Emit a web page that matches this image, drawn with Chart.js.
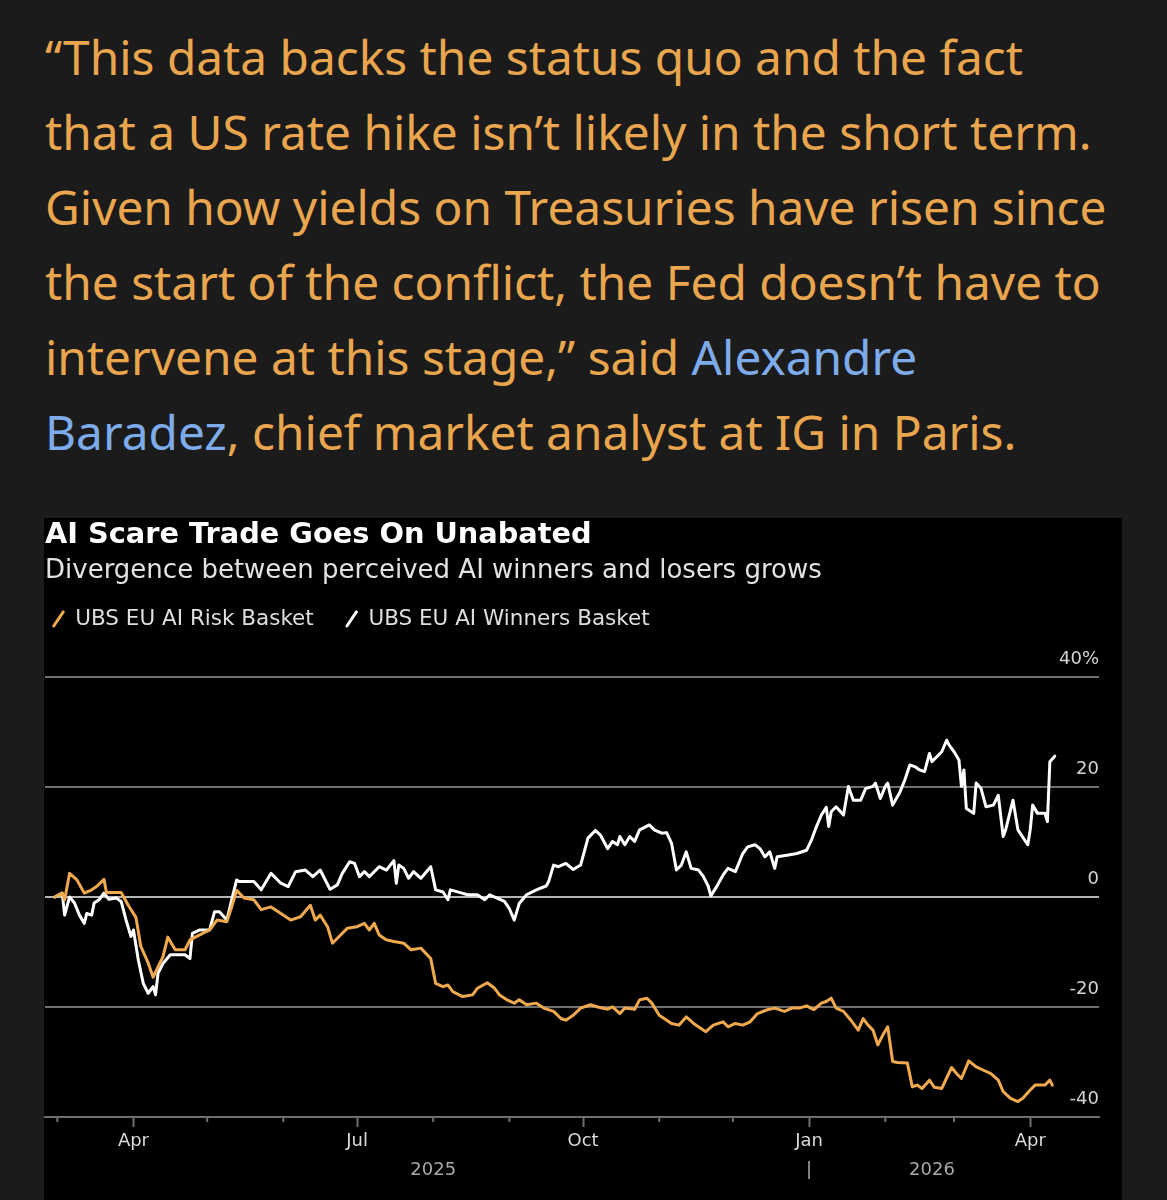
<!DOCTYPE html>
<html>
<head>
<meta charset="utf-8">
<script src="https://cdn.jsdelivr.net/npm/chart.js@4.4.1/dist/chart.umd.min.js"></script>
<style>
  html, body { margin: 0; padding: 0; background: #1b1b1b; }
  body { width: 1167px; height: 1200px; position: relative; overflow: hidden; }
  .citacao { position: absolute; left: 45px; top: 18.5px; font-family: 'Noto Sans', sans-serif;
             font-size: 47.8px; line-height: 75px; color: #e9a64e; }
  .citacao div { white-space: nowrap; }
  .citacao .nome { color: #7eabea; }
  .painel { position: absolute; left: 44px; top: 518px; width: 1078px; height: 682px; background: #000; }
</style>
</head>
<body>
<div class="citacao">
  <div>“This data backs the status quo and the fact</div>
  <div>that a US rate hike isn’t likely in the short term.</div>
  <div>Given how yields on Treasuries have risen since</div>
  <div>the start of the conflict, the Fed doesn’t have to</div>
  <div>intervene at this stage,” said <span class="nome">Alexandre</span></div>
  <div><span class="nome">Baradez</span>, chief market analyst at IG in Paris.</div>
</div>
<div class="painel"><canvas id="grafico"></canvas></div>
<script>
const tituloTexto = 'AI Scare Trade Goes On Unabated';
const subtituloTexto = 'Divergence between perceived AI winners and losers grows';
const riskLabel = 'UBS EU AI Risk Basket';
const winnersLabel = 'UBS EU AI Winners Basket';

const riskDates = [
  '2025-02-28','2025-03-03','2025-03-04','2025-03-06','2025-03-09','2025-03-12','2025-03-15','2025-03-17',
  '2025-03-20','2025-03-21','2025-03-25','2025-03-27','2025-03-30','2025-04-02','2025-04-04','2025-04-07',
  '2025-04-09','2025-04-11','2025-04-13','2025-04-15','2025-04-18','2025-04-22','2025-04-24','2025-04-28',
  '2025-05-02','2025-05-05','2025-05-09','2025-05-11','2025-05-13','2025-05-16','2025-05-20','2025-05-23',
  '2025-05-27','2025-05-31','2025-06-04','2025-06-08','2025-06-12','2025-06-14','2025-06-16','2025-06-19',
  '2025-06-21','2025-06-23','2025-06-27','2025-07-01','2025-07-04','2025-07-06','2025-07-08','2025-07-10',
  '2025-07-13','2025-07-16','2025-07-20','2025-07-23','2025-07-27','2025-07-31','2025-08-02','2025-08-05',
  '2025-08-07','2025-08-09','2025-08-13','2025-08-17','2025-08-19','2025-08-23','2025-08-26','2025-08-28',
  '2025-08-31','2025-09-03','2025-09-05','2025-09-08','2025-09-12','2025-09-15','2025-09-19','2025-09-22',
  '2025-09-24','2025-09-27','2025-09-30','2025-10-04','2025-10-07','2025-10-11','2025-10-13','2025-10-16',
  '2025-10-18','2025-10-22','2025-10-24','2025-10-27','2025-10-29','2025-11-01','2025-11-03','2025-11-06',
  '2025-11-09','2025-11-12','2025-11-15','2025-11-18','2025-11-20','2025-11-23','2025-11-27','2025-11-29',
  '2025-12-02','2025-12-05','2025-12-08','2025-12-11','2025-12-15','2025-12-18','2025-12-22','2025-12-25',
  '2025-12-28','2025-12-31','2026-01-03','2026-01-06','2026-01-08','2026-01-10','2026-01-12','2026-01-15',
  '2026-01-18','2026-01-21','2026-01-23','2026-01-25','2026-01-27','2026-01-29','2026-01-31','2026-02-02',
  '2026-02-04','2026-02-06','2026-02-10','2026-02-12','2026-02-14','2026-02-16','2026-02-19','2026-02-21',
  '2026-02-24','2026-02-28','2026-03-02','2026-03-04','2026-03-07','2026-03-10','2026-03-13','2026-03-16',
  '2026-03-19','2026-03-21','2026-03-24','2026-03-27','2026-03-29','2026-04-01','2026-04-03','2026-04-07',
  '2026-04-09','2026-04-10'
];
const riskValues = [
  0, 0.7, -0.5, 4.3, 3.1, 0.7, 1.3, 1.9,
  3.2, 0.8, 0.8, 0.8, -1.6, -3.7, -9.0, -12.0,
  -14.6, -12.7, -10.9, -7.3, -9.6, -9.6, -7.8, -6.9,
  -6.0, -4.2, -4.5, -1.8, 1.2, -0.2, -0.5, -2.3,
  -1.8, -3.0, -4.2, -3.6, -1.5, -4.2, -3.3, -5.4,
  -8.4, -7.5, -5.7, -5.4, -4.8, -6.0, -4.8, -6.9,
  -7.8, -8.1, -8.4, -9.6, -9.3, -11.2, -15.7, -16.3,
  -16.0, -17.2, -18.1, -17.8, -16.6, -15.6, -16.6, -17.8,
  -18.7, -19.3, -18.7, -19.6, -19.3, -20.2, -20.8, -22.1,
  -22.4, -21.5, -20.2, -19.6, -20.0, -20.4, -20.0, -21.2,
  -20.2, -20.4, -18.7, -18.4, -19.3, -21.5, -22.1, -23.0,
  -23.3, -21.8, -23.0, -23.9, -24.5, -23.3, -22.7, -23.6,
  -23.0, -23.3, -22.7, -21.2, -20.5, -20.2, -20.8, -20.2,
  -20.2, -19.8, -20.5, -19.3, -19.0, -18.4, -20.2, -20.8,
  -22.4, -24.2, -22.1, -23.3, -24.2, -26.9, -25.1, -23.6,
  -29.9, -30.1, -30.2, -34.5, -34.2, -34.8, -33.3, -34.6,
  -34.8, -31.0, -32.1, -33.0, -29.8, -30.9, -31.5, -32.1,
  -33.3, -35.4, -36.6, -37.2, -36.6, -35.1, -34.2, -34.2,
  -33.3, -34.2
];

const winnersDates = [
  '2025-02-28','2025-03-03','2025-03-04','2025-03-06','2025-03-08','2025-03-10','2025-03-12','2025-03-13',
  '2025-03-15','2025-03-16','2025-03-18','2025-03-20','2025-03-22','2025-03-25','2025-03-27','2025-03-29',
  '2025-03-31','2025-04-01','2025-04-03','2025-04-05','2025-04-07','2025-04-09','2025-04-10','2025-04-11',
  '2025-04-13','2025-04-16','2025-04-19','2025-04-22','2025-04-24','2025-04-25','2025-04-28','2025-05-02',
  '2025-05-04','2025-05-06','2025-05-09','2025-05-11','2025-05-13','2025-05-14','2025-05-20','2025-05-23',
  '2025-05-27','2025-05-31','2025-06-03','2025-06-06','2025-06-10','2025-06-13','2025-06-16','2025-06-20',
  '2025-06-23','2025-06-25','2025-06-28','2025-06-30','2025-07-02','2025-07-04','2025-07-06','2025-07-10',
  '2025-07-13','2025-07-16','2025-07-17','2025-07-18','2025-07-20','2025-07-22','2025-07-24','2025-07-27',
  '2025-07-31','2025-08-02','2025-08-05','2025-08-07','2025-08-08','2025-08-12','2025-08-15','2025-08-19',
  '2025-08-22','2025-08-24','2025-08-27','2025-08-30','2025-09-01','2025-09-03','2025-09-05','2025-09-08',
  '2025-09-12','2025-09-16','2025-09-17','2025-09-19','2025-09-21','2025-09-24','2025-09-27','2025-09-30',
  '2025-10-03','2025-10-06','2025-10-08','2025-10-11','2025-10-13','2025-10-15','2025-10-16','2025-10-18',
  '2025-10-20','2025-10-22','2025-10-24','2025-10-28','2025-10-30','2025-11-02','2025-11-04','2025-11-06',
  '2025-11-08','2025-11-10','2025-11-12','2025-11-14','2025-11-17','2025-11-19','2025-11-21','2025-11-22',
  '2025-11-24','2025-11-27','2025-11-29','2025-12-02','2025-12-05','2025-12-07','2025-12-10','2025-12-12',
  '2025-12-14','2025-12-16','2025-12-18','2025-12-19','2025-12-23','2025-12-27','2025-12-31','2026-01-02',
  '2026-01-04','2026-01-06','2026-01-08','2026-01-09','2026-01-10','2026-01-12','2026-01-15','2026-01-17',
  '2026-01-19','2026-01-22','2026-01-24','2026-01-27','2026-01-28','2026-01-30','2026-02-01','2026-02-02',
  '2026-02-04','2026-02-07','2026-02-09','2026-02-11','2026-02-13','2026-02-15','2026-02-17','2026-02-19',
  '2026-02-20','2026-02-22','2026-02-24','2026-02-26','2026-02-27','2026-03-01','2026-03-03','2026-03-04',
  '2026-03-05','2026-03-06','2026-03-09','2026-03-10','2026-03-12','2026-03-14','2026-03-17','2026-03-19',
  '2026-03-21','2026-03-22','2026-03-25','2026-03-27','2026-03-31','2026-04-01','2026-04-02','2026-04-04',
  '2026-04-07','2026-04-08','2026-04-09','2026-04-11'
];
const winnersValues = [
  0, 0.7, -3.3, 0, -1.1, -3.3, -4.8, -3.0,
  -3.3, -1.1, -0.5, 0.7, -0.4, -0.2, -0.8, -4.2,
  -7.2, -6.0, -11.5, -15.7, -17.5, -16.3, -17.8, -13.9,
  -12.1, -10.5, -10.5, -10.5, -11.2, -6.6, -6.0, -6.0,
  -2.7, -2.7, -4.2, -0.5, 3.1, 2.8, 2.8, 1.3,
  4.3, 2.5, 1.9, 4.6, 4.9, 3.7, 4.9, 1.4,
  2.2, 4.3, 6.4, 6.1, 3.7, 4.6, 3.7, 5.5,
  4.9, 6.6, 2.5, 5.8, 5.2, 3.4, 4.6, 3.4,
  5.5, 1.3, 0.9, -0.5, 1.3, 0.8, 0.4, 0.4,
  -0.5, 0.4, -0.2, -0.8, -2.1, -4.2, -1.2, 0.4,
  1.3, 2.0, 2.8, 5.8, 5.5, 6.1, 5.0, 5.8,
  10.7, 12.1, 11.3, 8.8, 10.1, 9.5, 11.0, 9.5,
  11.0, 10.1, 12.2, 13.1, 12.2, 11.6, 11.7, 9.8,
  4.9, 5.8, 8.2, 5.2, 4.9, 3.7, 1.9, 0.2,
  1.6, 4.0, 5.2, 4.6, 7.9, 9.1, 9.5, 8.8,
  7.3, 8.2, 5.2, 7.3, 7.6, 7.9, 8.5, 10.4,
  12.8, 14.9, 16.3, 12.8, 15.5, 16.4, 14.9, 20.1,
  17.6, 17.6, 19.7, 20.1, 20.7, 17.9, 20.1, 20.7,
  16.7, 19.1, 21.3, 24.0, 23.7, 23.1, 22.8, 26.1,
  24.6, 25.5, 26.4, 28.5, 27.6, 26.4, 24.9, 20.1,
  23.1, 16.1, 15.2, 20.7, 19.7, 16.4, 16.7, 18.5,
  11.0, 12.2, 17.6, 12.2, 9.5, 12.2, 16.7, 15.2,
  15.2, 13.7, 24.6, 25.6
];

const monthLabels = ['Jan', '', '', 'Apr', '', '', 'Jul', '', '', 'Oct', '', ''];
const yearTickDates = ['2025-08-01', '2026-01-01', '2026-02-20'];
const yearTickLabels = ['2025', '|', '2026'];
const yTicks = [-40, -20, 0, 20, 40];
const axisStart = '2025-02-24';
const axisEnd = '2026-04-29';

const corLaranja = '#f0a94c';
const corBranca = '#ffffff';
const corGrade = '#6f6f6f';

const ms = s => Date.parse(s + 'T00:00:00Z');
const pontos = (datas, valores) => datas.map((d, i) => ({ x: ms(d), y: valores[i] }));
const ehTrimestre = v => new Date(v).getUTCMonth() % 3 === 0;

// tracinhos menores dos meses que nao sao inicio de trimestre
const tracosMenores = {
  id: 'tracosMenores',
  afterDraw(chart) {
    const sx = chart.scales.x;
    const ctx = chart.ctx;
    ctx.save();
    ctx.strokeStyle = corGrade;
    ctx.lineWidth = 2;
    sx.ticks.forEach(t => {
      if (ehTrimestre(t.value)) return;
      const px = sx.getPixelForValue(t.value);
      ctx.beginPath();
      ctx.moveTo(px, sx.top);
      ctx.lineTo(px, sx.top + 5);
      ctx.stroke();
    });
    ctx.restore();
  }
};

// espaco extra entre a legenda e a area do grafico
const espacoLegenda = {
  id: 'espacoLegenda',
  beforeInit(chart) {
    const fitOriginal = chart.legend.fit;
    chart.legend.fit = function () {
      fitOriginal.call(this);
      this.height += 37.25;
    };
  }
};

const fonte = 'DejaVu Sans';

new Chart(document.getElementById('grafico'), {
  type: 'line',
  data: {
    datasets: [{
      label: riskLabel,
      data: pontos(riskDates, riskValues),
      borderColor: corLaranja,
      backgroundColor: corLaranja
    }, {
      label: winnersLabel,
      data: pontos(winnersDates, winnersValues),
      borderColor: corBranca,
      backgroundColor: corBranca
    }]
  },
  options: {
    responsive: true,
    maintainAspectRatio: false,
    animation: false,
    layout: { padding: { left: 1, right: 23, top: 0, bottom: 17 } },
    elements: {
      point: { radius: 0 },
      line: { borderWidth: 3, tension: 0, borderJoinStyle: 'round', borderCapStyle: 'round' }
    },
    plugins: {
      title: {
        display: true,
        text: tituloTexto,
        align: 'start',
        color: '#ffffff',
        font: { family: fonte, size: 28.8, weight: 'bold' },
        padding: { top: 0.7, bottom: 0 }
      },
      subtitle: {
        display: true,
        text: subtituloTexto,
        align: 'start',
        color: '#e2e2e2',
        font: { family: fonte, size: 26 },
        padding: { top: 2.1, bottom: 14.15 }
      },
      legend: {
        align: 'start',
        labels: {
          usePointStyle: true,
          boxWidth: 12,
          boxHeight: 12,
          padding: 7.5,
          color: '#dedede',
          font: { family: fonte, size: 21.5 },
          generateLabels: chart => chart.data.datasets.map((ds, i) => ({
            text: i === 0 ? ds.label + '\u2002  ' : ds.label,
            fillStyle: ds.borderColor,
            strokeStyle: ds.borderColor,
            fontColor: '#dedede',
            lineWidth: 3,
            lineCap: 'round',
            pointStyle: 'line',
            rotation: -56,
            hidden: false,
            datasetIndex: i
          }))
        }
      },
      tooltip: { enabled: false }
    },
    scales: {
      x: {
        type: 'linear',
        min: ms(axisStart),
        max: ms(axisEnd),
        afterBuildTicks: scale => {
          const marcas = [];
          let d = new Date(ms(axisStart));
          d = new Date(Date.UTC(d.getUTCFullYear(), d.getUTCMonth() + 1, 1));
          while (d.getTime() <= scale.max) {
            marcas.push({ value: d.getTime() });
            d = new Date(Date.UTC(d.getUTCFullYear(), d.getUTCMonth() + 1, 1));
          }
          scale.ticks = marcas;
        },
        afterFit: scale => { scale.height = 36; },
        grid: {
          display: true,
          drawOnChartArea: false,
          drawTicks: true,
          tickLength: 10,
          tickWidth: 2,
          tickColor: c => (c.tick && ehTrimestre(c.tick.value)) ? corGrade : 'rgba(0,0,0,0)'
        },
        border: { display: true, color: corGrade, width: 2 },
        ticks: {
          autoSkip: false,
          maxRotation: 0,
          padding: 4,
          color: '#dadada',
          font: { family: fonte, size: 18 },
          callback: v => monthLabels[new Date(v).getUTCMonth()]
        }
      },
      anos: {
        type: 'linear',
        position: 'bottom',
        weight: 1,
        min: ms(axisStart),
        max: ms(axisEnd),
        afterBuildTicks: scale => {
          scale.ticks = yearTickDates.map(d => ({ value: ms(d) }));
        },
        afterFit: scale => { scale.height = 30; },
        grid: { display: false },
        border: { display: false },
        ticks: {
          autoSkip: false,
          maxRotation: 0,
          padding: -1,
          color: '#a8a8a8',
          font: { family: fonte, size: 18 },
          callback: (v, i) => yearTickLabels[i]
        }
      },
      y: {
        position: 'right',
        min: -40,
        max: 40,
        afterBuildTicks: scale => {
          scale.ticks = yTicks.map(v => ({ value: v }));
        },
        grid: {
          drawTicks: false,
          lineWidth: 2,
          color: c => (c.tick && c.tick.value === 0) ? '#b4b4b4' : corGrade
        },
        border: { display: false },
        ticks: {
          mirror: true,
          padding: 0,
          labelOffset: -18,
          color: '#d4d4d4',
          font: { family: fonte, size: 18 },
          callback: v => v === 40 ? '40%' : String(v)
        }
      }
    }
  },
  plugins: [tracosMenores, espacoLegenda]
});
</script>
</body>
</html>
